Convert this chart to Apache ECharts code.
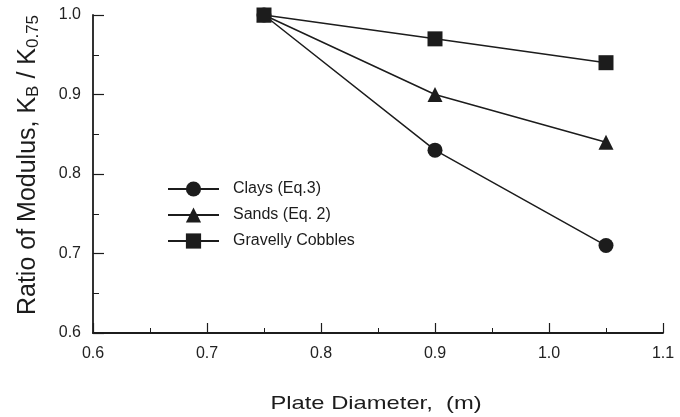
<!DOCTYPE html>
<html><head><meta charset="utf-8">
<script src="https://cdn.jsdelivr.net/npm/echarts@6/dist/echarts.min.js"></script>
<style>html,body{margin:0;padding:0;background:#fff}#c{width:680px;height:417px}</style>
</head><body><div id="c"></div>
<script>
const diameters = [0.75, 0.9, 1.05];
const clays = [1.0, 0.83, 0.71];
const sands = [1.0, 0.90, 0.84];
const gravelly = [1.0, 0.97, 0.94];
const seriesNames = ['Clays (Eq.3)', 'Sands (Eq. 2)', 'Gravelly Cobbles'];
const xTicks = [0.6, 0.7, 0.8, 0.9, 1.0, 1.1];
const yTicks = [0.6, 0.7, 0.8, 0.9, 1.0];

const chart = echarts.init(document.getElementById('c'), null, {renderer: 'canvas'});
const ink = '#1c1c1c';
function pairs(vals){ return diameters.map((d,i)=>[d, vals[i]]); }
function mk(name, vals, symbol, size){
  return {name, type:'line', data: pairs(vals), symbol, symbolSize: size,
    lineStyle:{color:ink, width:1.5}, itemStyle:{color:ink}, z: 3};
}
chart.setOption({
  animation:false,
  grid:{left:93, right:17, top:15, bottom:84},
  legend:{orient:'vertical', left:162, top:176, itemWidth:51, itemHeight:19, itemGap:10,
    data: seriesNames,
    textStyle:{fontFamily:'Liberation Sans', fontSize:16, color:ink, padding:[0,0,0,9]}},
  xAxis:{type:'value', min:xTicks[0], max:xTicks[xTicks.length-1], interval:0.1,
    axisLine:{lineStyle:{color:ink, width:1.8}},
    axisTick:{inside:true, length:10, lineStyle:{color:ink, width:1.2}},
    minorTick:{show:true, splitNumber:2, length:5, lineStyle:{color:ink}},
    splitLine:{show:false},
    axisLabel:{margin:13, fontFamily:'Liberation Sans', fontSize:16, color:'#222',
      formatter:v=>v.toFixed(1)}},
  yAxis:{type:'value', min:yTicks[0], max:yTicks[yTicks.length-1], interval:0.1,
    axisLine:{show:true, lineStyle:{color:ink, width:1.8}},
    axisTick:{show:true, inside:true, length:11, lineStyle:{color:ink, width:1.2}},
    minorTick:{show:true, splitNumber:2, length:6, lineStyle:{color:ink}},
    splitLine:{show:false},
    axisLabel:{margin:12, fontFamily:'Liberation Sans', fontSize:16, color:'#222',
      formatter:v=>v.toFixed(1)}},
  graphic:[
    {type:'text', x:376, y:404, scaleX:1.25,
      style:{text:'Plate Diameter,  (m)', font:'19px "Liberation Sans"', fill:ink, align:'center', verticalAlign:'middle'}},
    {type:'text', x:28, y:165, rotation:Math.PI/2,
      style:{text:'Ratio of Modulus, K{sub|B} / K{sub|0.75}', font:'25px "Liberation Sans"', fill:ink, align:'center', verticalAlign:'middle',
        rich:{sub:{fontSize:17, fontFamily:'Liberation Sans', verticalAlign:'bottom', padding:[10,0,0,0], fill:ink}}}}
  ],
  series:[
    mk(seriesNames[0], clays, 'circle', 15),
    mk(seriesNames[1], sands, 'triangle', 15),
    mk(seriesNames[2], gravelly, 'rect', 15)
  ]
});
</script></body></html>
